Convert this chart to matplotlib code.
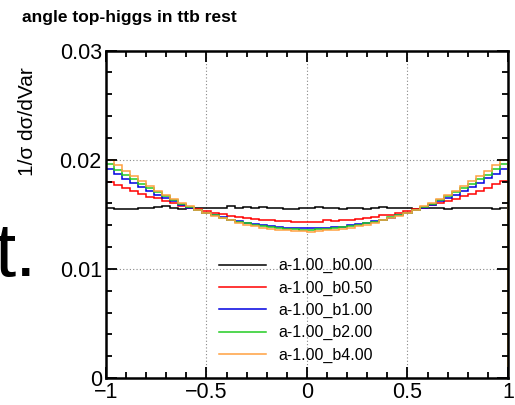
import numpy as np
import matplotlib
matplotlib.use("Agg")
import matplotlib.pyplot as plt

plt.rcParams['font.family'] = ['Liberation Sans', 'DejaVu Sans']

# 50 bins in cos(angle) from -1 to 1
nbins = 50
labels = ["a-1.00_b0.00", "a-1.00_b0.50", "a-1.00_b1.00",
          "a-1.00_b2.00", "a-1.00_b4.00"]
colors = ["black", "#ff0000", "#0000e0", "#22cc22", "#ffa040"]

b000 = [0.01556, 0.01552, 0.01550, 0.01548, 0.01555, 0.01560, 0.01570, 0.01574, 0.01560, 0.01552,
        0.01555, 0.01556, 0.01558, 0.01554, 0.01560, 0.01572, 0.01562, 0.01566, 0.01560, 0.01570,
        0.01558, 0.01556, 0.01548, 0.01545, 0.01555, 0.01560, 0.01564, 0.01556, 0.01560, 0.01545,
        0.01558, 0.01560, 0.01553, 0.01562, 0.01565, 0.01560, 0.01555, 0.01560, 0.01545, 0.01558,
        0.01562, 0.01560, 0.01546, 0.01560, 0.01562, 0.01558, 0.01554, 0.01560, 0.01550, 0.01556]
b050 = [0.01800, 0.01772, 0.01742, 0.01716, 0.01690, 0.01662, 0.01645, 0.01620, 0.01602, 0.01580,
        0.01562, 0.01545, 0.01528, 0.01512, 0.01500, 0.01488, 0.01478, 0.01468, 0.01460, 0.01452,
        0.01446, 0.01440, 0.01436, 0.01430, 0.01428, 0.01428, 0.01432, 0.01450, 0.01440, 0.01446,
        0.01452, 0.01458, 0.01470, 0.01476, 0.01490, 0.01498, 0.01514, 0.01526, 0.01546, 0.01560,
        0.01582, 0.01600, 0.01622, 0.01642, 0.01666, 0.01688, 0.01718, 0.01745, 0.01778, 0.01808]
b100 = [0.01915, 0.01868, 0.01826, 0.01788, 0.01750, 0.01712, 0.01680, 0.01646, 0.01618, 0.01588,
        0.01560, 0.01536, 0.01512, 0.01490, 0.01472, 0.01452, 0.01438, 0.01422, 0.01410, 0.01400,
        0.01390, 0.01384, 0.01378, 0.01374, 0.01372, 0.01370, 0.01378, 0.01376, 0.01386, 0.01388,
        0.01402, 0.01408, 0.01424, 0.01440, 0.01450, 0.01470, 0.01492, 0.01510, 0.01538, 0.01562,
        0.01586, 0.01620, 0.01648, 0.01678, 0.01714, 0.01752, 0.01790, 0.01830, 0.01872, 0.01918]
b200 = [0.01958, 0.01910, 0.01862, 0.01820, 0.01776, 0.01738, 0.01700, 0.01664, 0.01630, 0.01598,
        0.01568, 0.01540, 0.01515, 0.01492, 0.01470, 0.01450, 0.01432, 0.01416, 0.01402, 0.01390,
        0.01380, 0.01372, 0.01366, 0.01362, 0.01360, 0.01358, 0.01364, 0.01368, 0.01374, 0.01380,
        0.01390, 0.01402, 0.01416, 0.01430, 0.01450, 0.01472, 0.01492, 0.01516, 0.01540, 0.01568,
        0.01598, 0.01630, 0.01664, 0.01700, 0.01738, 0.01776, 0.01820, 0.01864, 0.01912, 0.01960]
b400 = [0.02000, 0.01948, 0.01896, 0.01848, 0.01802, 0.01758, 0.01718, 0.01678, 0.01640, 0.01606,
        0.01574, 0.01544, 0.01515, 0.01488, 0.01465, 0.01444, 0.01424, 0.01406, 0.01390, 0.01378,
        0.01367, 0.01358, 0.01352, 0.01347, 0.01344, 0.01342, 0.01348, 0.01352, 0.01358, 0.01366,
        0.01376, 0.01390, 0.01406, 0.01424, 0.01444, 0.01464, 0.01488, 0.01516, 0.01544, 0.01574,
        0.01606, 0.01640, 0.01678, 0.01718, 0.01758, 0.01802, 0.01848, 0.01896, 0.01948, 0.01995]
series = [b000, b050, b100, b200, b400]

edges = np.linspace(-1, 1, nbins + 1)

fig = plt.figure(figsize=(5.15, 4.05), dpi=100)
ax = fig.add_axes([0.2058, 0.0667, 0.7806, 0.8083])

for vals, col, lab in zip(series, colors, labels):
    ax.stairs(vals, edges, baseline=0, color=col, lw=1.1, label=lab)

ax.set_xlim(-1, 1)
ax.set_ylim(0, 0.03)
ax.set_xticks([-1, -0.5, 0, 0.5, 1])
ax.set_xticklabels(["\u22121", "\u22120.5", "0", "0.5", "1"])
ax.set_yticks([0, 0.01, 0.02, 0.03])
ax.set_yticklabels(["0", "0.01", "0.02", "0.03"])
ax.set_xticks(np.arange(-1, 1.001, 0.1), minor=True)
ax.set_yticks(np.arange(0, 0.0301, 0.002), minor=True)
ax.tick_params(which='both', direction='in', top=True, right=True,
               labelsize=15.5, width=1.3, pad=3)
ax.tick_params(which='major', length=8)
ax.tick_params(which='minor', length=4)
for s in ax.spines.values():
    s.set_linewidth(1.8)

for xv in [-0.5, 0, 0.5]:
    ax.axvline(xv, color='#888888', ls=(0, (1, 2)), lw=0.8, zorder=0)
for yv in [0.01, 0.02]:
    ax.axhline(yv, color='#888888', ls=(0, (1, 2)), lw=0.8, zorder=0)

ax.legend(loc='upper left', bbox_to_anchor=(0.265, 0.385), frameon=False,
          fontsize=11.5, handlelength=2.95, handletextpad=0.75,
          labelspacing=0.45, borderaxespad=0)

fig.text(0.043, 0.958, "angle top-higgs in ttb rest", fontsize=12.5,
         fontweight='bold', va='center', ha='left')
fig.text(0.053, 0.7, "1/\u03c3 d\u03c3/dVar", fontsize=15, rotation=90,
         va='center', ha='center')
fig.text(-0.01, 0.318, "t.", fontsize=55, va='baseline', ha='left')

fig.savefig("out.png", dpi=100)
